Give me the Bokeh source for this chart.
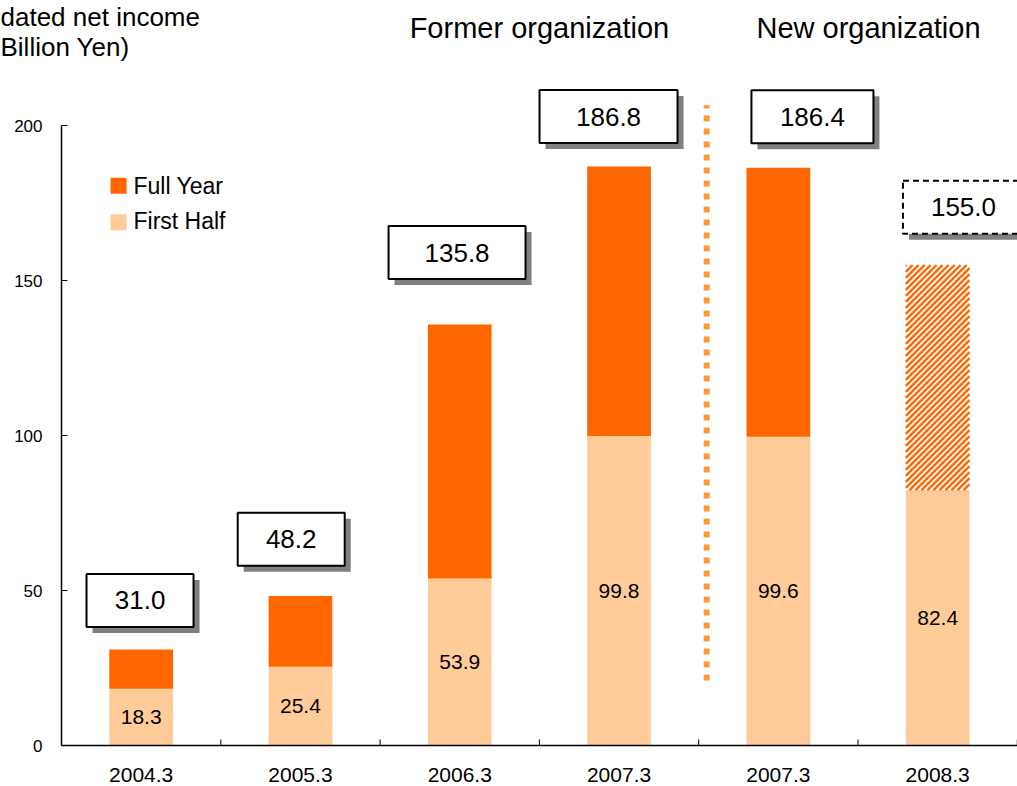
from bokeh.plotting import figure
from bokeh.models import Range1d
from bokeh.core.properties import value
from bokeh.embed import file_html
from bokeh.resources import INLINE

# ---------------- data ----------------
periods = ["2004.3", "2005.3", "2006.3", "2007.3", "2007.3", "2008.3"]
first_half = [18.3, 25.4, 53.9, 99.8, 99.6, 82.4]
full_year = [31.0, 48.2, 135.8, 186.8, 186.4, 155.0]
is_forecast = [False, False, False, False, False, True]
full_labels = ["31.0", "48.2", "135.8", "186.8", "186.4", "155.0"]
half_labels = ["18.3", "25.4", "53.9", "99.8", "99.6", "82.4"]
legend_labels = ["Full Year", "First Half"]
group_titles = ["Former organization", "New organization"]
axis_title_lines = ["dated net income", "Billion Yen)"]
y_ticks = [0, 50, 100, 150, 200]
y_tick_labels = ["0", "50", "100", "150", "200"]

# ---------------- layout / style ----------------
FONT = value("Liberation Sans")
C_FULL = "#FF6600"
C_HALF = "#FFCC99"
C_DOT = "#FF9933"
W, H = 1017, 786
AX_LEFT, AX_BOTTOM = 61, 745      # pixel position of the axes' origin
PX_X = 159.3                      # pixels per category
PX_Y = 3.1                        # pixels per unit
Y_TOP = 200
BAR_W = 0.40

box_x = [0.493, 1.442, 2.483, 3.434, 4.714, 5.662]
box_y = [46.8, 66.5, 159.0, 202.9, 202.8, 173.6]
box_w = [107, 107, 137, 138, 122, 121]
BOX_H = 53
SHADOW = 6

p = figure(width=W, height=H,
           x_range=Range1d(-AX_LEFT / PX_X, (W - AX_LEFT) / PX_X),
           y_range=Range1d(-(H - AX_BOTTOM) / PX_Y, AX_BOTTOM / PX_Y),
           min_border=0, x_axis_type=None, y_axis_type=None,
           output_backend="svg", toolbar_location=None)
p.outline_line_color = None
p.grid.visible = False
p.background_fill_color = "white"
p.border_fill_color = "white"

n = len(periods)
xc = [i + 0.5 for i in range(n)]
x_end = (W - AX_LEFT) / PX_X

# bars: first half
p.vbar(x=xc, bottom=0, top=first_half, width=BAR_W,
       fill_color=C_HALF, line_color=None)

act = [i for i in range(n) if not is_forecast[i]]
fc = [i for i in range(n) if is_forecast[i]]
p.vbar(x=[xc[i] for i in act], bottom=[first_half[i] for i in act],
       top=[full_year[i] for i in act], width=BAR_W,
       fill_color=C_FULL, line_color=None)

# forecast segment: white with diagonal orange stripes (clipped to the bar)
STRIPE_P = 6.0   # horizontal period in px
hx0, hx1, hy0, hy1 = [], [], [], []
for i in fc:
    X0 = (xc[i] - BAR_W / 2) * PX_X
    X1 = (xc[i] + BAR_W / 2) * PX_X
    Y0 = first_half[i] * PX_Y
    Y1 = full_year[i] * PX_Y
    p.vbar(x=[xc[i]], bottom=[first_half[i]], top=[full_year[i]], width=BAR_W,
           fill_color="white", line_color=None)
    c = Y0 - X1
    while c < Y1 - X0:
        xs = max(X0, Y0 - c)
        xe = min(X1, Y1 - c)
        if xe > xs:
            hx0.append(xs / PX_X); hy0.append((xs + c) / PX_Y)
            hx1.append(xe / PX_X); hy1.append((xe + c) / PX_Y)
        c += STRIPE_P
p.segment(x0=hx0, y0=hy0, x1=hx1, y1=hy1, line_color=C_FULL,
          line_width=2.4, line_cap="butt")

# first-half value labels
p.text(x=xc, y=[v / 2 for v in first_half], text=half_labels,
       text_align="center", text_baseline="middle",
       text_font=FONT, text_font_size="21px", text_color="black")

# boxes with totals
dx = SHADOW / PX_X
dy = SHADOW / PX_Y
p.rect(x=[v + dx for v in box_x], y=[v - dy for v in box_y],
       width=box_w, height=BOX_H, width_units="screen", height_units="screen",
       fill_color="#808080", line_color=None)
p.rect(x=[box_x[i] for i in act], y=[box_y[i] for i in act],
       width=[box_w[i] for i in act], height=BOX_H,
       width_units="screen", height_units="screen",
       fill_color="white", line_color="black", line_width=2)
p.rect(x=[box_x[i] for i in fc], y=[box_y[i] for i in fc],
       width=[box_w[i] for i in fc], height=BOX_H,
       width_units="screen", height_units="screen",
       fill_color="white", line_color="black", line_width=2, line_dash="6 4")
p.text(x=box_x, y=box_y, text=full_labels,
       text_align="center", text_baseline="middle",
       text_font=FONT, text_font_size="26px", text_color="black")

# dotted divider between organizations
p.segment(x0=[4.05], y0=[21.0], x1=[4.05], y1=[206.5],
          line_color=C_DOT, line_width=6, line_dash="6 7")

# group titles
p.text(x=[3.0, 5.066], y=[231.6, 231.6], text=group_titles,
       text_align="center", text_baseline="middle",
       text_font=FONT, text_font_size="29px", text_color="black")

# legend
p.rect(x=[0.358, 0.358], y=[180.6, 168.8], width=16, height=16,
       width_units="screen", height_units="screen",
       fill_color=[C_FULL, C_HALF], line_color=None)
p.text(x=[0.452, 0.452], y=[180.6, 169.1], text=legend_labels,
       text_align="left", text_baseline="middle",
       text_font=FONT, text_font_size="23px", text_color="black")

# axis title (starts at the left edge, as in the source)
p.text(x=[-AX_LEFT / PX_X, -AX_LEFT / PX_X], y=[234.9, 225.3],
       text=axis_title_lines, text_align="left", text_baseline="middle",
       text_font=FONT, text_font_size="26px", text_color="black")

# ---- y axis (drawn) ----
p.segment(x0=[0], y0=[0], x1=[0], y1=[Y_TOP], line_color="black", line_width=1.5)
p.segment(x0=[0] * len(y_ticks), y0=y_ticks, x1=[6 / PX_X] * len(y_ticks), y1=y_ticks,
          line_color="black", line_width=1)
p.text(x=[-19 / PX_X] * len(y_ticks), y=y_ticks, text=y_tick_labels,
       text_align="right", text_baseline="middle",
       text_font=FONT, text_font_size="17px", text_color="black")

# ---- x axis (drawn) ----
p.segment(x0=[0], y0=[0], x1=[x_end], y1=[0], line_color="black", line_width=1.5)
bounds = [float(i) for i in range(1, n + 1)]
p.segment(x0=bounds, y0=[0] * len(bounds), x1=bounds, y1=[6 / PX_Y] * len(bounds),
          line_color="black", line_width=1)
p.text(x=xc, y=[-29 / PX_Y] * n, text=periods,
       text_align="center", text_baseline="middle",
       text_font=FONT, text_font_size="21px", text_color="black")

open("out.html", "w").write(file_html(p, INLINE))
